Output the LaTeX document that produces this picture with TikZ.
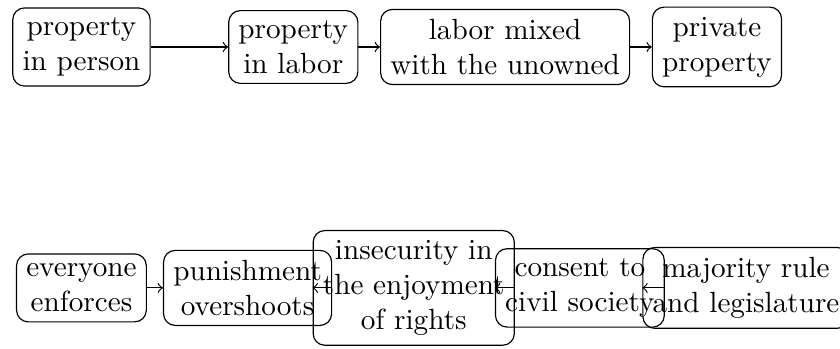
\documentclass[tikz,border=0pt]{standalone}
\usepackage{amsmath}
\usepackage{tikz}
\usetikzlibrary{positioning}
\tikzstyle{block} = [rectangle, draw, align=center, rounded corners]

\begin{document}
\begin{tikzpicture}[node distance = 2.55cm, auto]
  \useasboundingbox (-27.9pt,16.1pt) rectangle (259.8pt,-103.1pt);

  % property chain
  \node [block] (person) {property\\ in person};
  \node [block, right of= person] (labor) {property\\ in labor};
  \node [block, right of= labor] (mixed) {labor mixed\\ with the unowned};
  \node [block, right of= mixed] (private) {private\\ property};

  % road to civil society
  \node [block, below of= person, node distance=2.9cm] (everyone) {everyone\\ enforces};
  \node [block, right of= everyone, node distance=2cm] (punish) {punishment\\ overshoots};
  \node [block, right of= punish, node distance=2cm] (insecure) {insecurity in\\ the enjoyment\\ of rights};
  \node [block, right of= insecure, node distance=2cm] (consent) {consent to\\ civil society};
  \node [block, right of= consent, node distance=2cm] (majority) {majority rule\\ and legislature};

  \draw [->] (person) to (labor);
  \draw [->] (labor) to (mixed);
  \draw [->] (mixed) to (private);

  \draw [->] (everyone) to (punish);
  \draw [->] (punish) to (insecure);
  \draw [->] (insecure) to (consent);
  \draw [->] (consent) to (majority);
\end{tikzpicture}
\end{document}
